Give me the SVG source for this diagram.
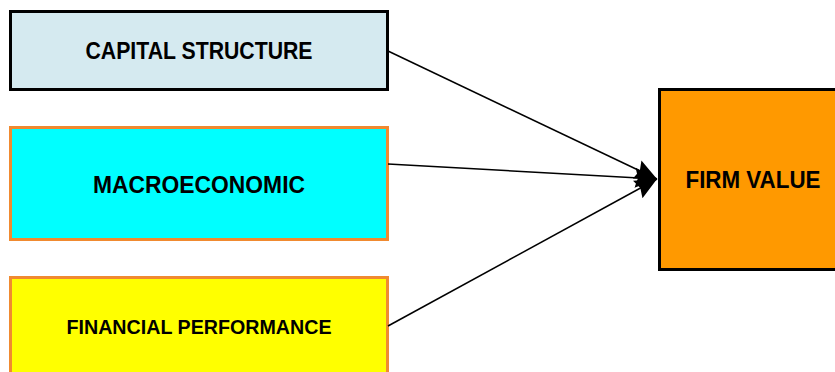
<svg xmlns="http://www.w3.org/2000/svg" width="835" height="372" viewBox="0 0 835 372">
<style>
.lbl{font-family:"Liberation Sans",Arial,sans-serif;font-weight:bold;fill:#000;text-anchor:middle;dominant-baseline:central}
.conn line{stroke:#000;stroke-width:1.5;fill:none}
</style>
<defs>
<marker id="ah" markerUnits="userSpaceOnUse" markerWidth="24" markerHeight="22" refX="22" refY="10" orient="auto" viewBox="0 0 24 20">
<path d="M0,0 L22,10 L0,20 L3,10 z" fill="#000"/>
</marker>
</defs>
<g id="capital-structure">
<rect x="10.5" y="11.5" width="377" height="78" fill="#d5eaf0" stroke="#000" stroke-width="3"/>
<text class="lbl" x="199" y="51" font-size="23" textLength="227" lengthAdjust="spacingAndGlyphs">CAPITAL STRUCTURE</text>
</g>
<g id="macroeconomic">
<rect x="10.5" y="127.5" width="377" height="112" fill="#00ffff" stroke="#f08a30" stroke-width="3"/>
<text class="lbl" x="199" y="185" font-size="23" textLength="212" lengthAdjust="spacingAndGlyphs">MACROECONOMIC</text>
</g>
<g id="financial-performance">
<rect x="10.5" y="277.5" width="377" height="100" fill="#ffff00" stroke="#f08a30" stroke-width="3"/>
<text class="lbl" x="199" y="327" font-size="20" textLength="265" lengthAdjust="spacingAndGlyphs">FINANCIAL PERFORMANCE</text>
</g>
<g id="firm-value">
<rect x="659.5" y="89.5" width="180" height="180" fill="#ff9900" stroke="#000" stroke-width="3"/>
<text class="lbl" x="753" y="180" font-size="23" textLength="135" lengthAdjust="spacingAndGlyphs">FIRM VALUE</text>
</g>
<g class="conn" id="connectors">
<line x1="388" y1="51" x2="657" y2="179" marker-end="url(#ah)"/>
<line x1="388" y1="164" x2="657" y2="179" marker-end="url(#ah)"/>
<line x1="388" y1="326" x2="657" y2="179" marker-end="url(#ah)"/>
</g>
</svg>
